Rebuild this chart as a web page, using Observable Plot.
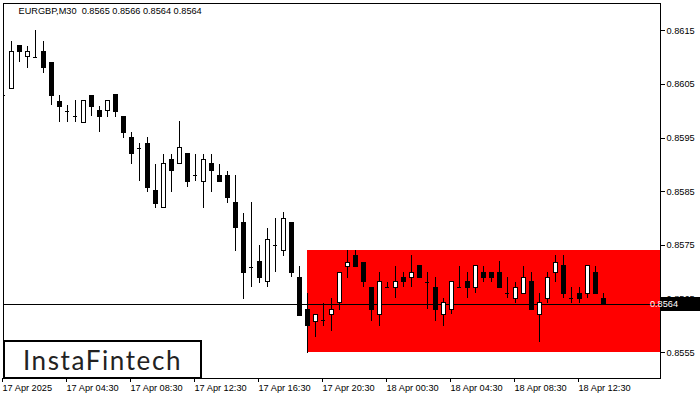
<!DOCTYPE html>
<html><head><meta charset="utf-8">
<script src="https://cdn.jsdelivr.net/npm/d3@7"></script>
<script src="https://cdn.jsdelivr.net/npm/@observablehq/plot@0.6"></script>
<style>
body{margin:0;background:#fff;}
#wrap{position:relative;width:700px;height:400px;overflow:hidden;background:#fff;}
#wrap svg rect, #wrap svg line, #wrap svg path{shape-rendering:crispEdges;}
#logo{position:absolute;left:3px;top:340px;width:195px;height:35px;border:2px solid #000;background:#fff;display:flex;align-items:center;justify-content:center;font-family:Lato,"Noto Sans",sans-serif;font-size:26px;color:#222;letter-spacing:1.6px;}
</style></head><body><div id="wrap"></div>
<script>
const symbolLabel = "EURGBP,M30";
const opens = [0.86030,0.86041,0.86121,0.86101,0.86101,0.86110,0.86091,0.86018,0.86000,0.85990,
0.85979,0.86028,0.86000,0.86000,0.86030,0.85990,0.85951,0.85931,0.85940,0.85851,
0.85819,0.85910,0.85901,0.85920,0.85880,0.85869,0.85901,0.85880,0.85880,0.85830,
0.85791,0.85709,0.85720,0.85681,0.85750,0.85739,0.85791,0.85690,0.85630,0.85608,
0.85610,0.85621,0.85642,0.85709,0.85731,0.85718,0.85671,0.85621,0.85671,0.85671,
0.85690,0.85690,0.85711,0.85681,0.85671,0.85621,0.85630,0.85671,0.85681,0.85671,
0.85699,0.85699,0.85699,0.85660,0.85651,0.85660,0.85681,0.85621,0.85651,0.85699,
0.85711,0.85651,0.85660,0.85660,0.85699,0.85650];
const highs = [0.86048,0.86130,0.86121,0.86121,0.86151,0.86130,0.86091,0.86030,0.86011,0.86020,
0.86020,0.86028,0.86009,0.86020,0.86030,0.85990,0.85961,0.85940,0.85951,0.85901,
0.85920,0.85920,0.85981,0.85920,0.85920,0.85920,0.85920,0.85901,0.85888,0.85880,
0.85810,0.85830,0.85750,0.85782,0.85800,0.85811,0.85791,0.85711,0.85660,0.85621,
0.85642,0.85651,0.85699,0.85740,0.85740,0.85718,0.85671,0.85699,0.85681,0.85711,
0.85699,0.85731,0.85711,0.85699,0.85690,0.85651,0.85681,0.85711,0.85699,0.85711,
0.85711,0.85699,0.85720,0.85690,0.85681,0.85711,0.85699,0.85660,0.85699,0.85731,
0.85731,0.85671,0.85671,0.85711,0.85711,0.85660];
const lows = [0.86011,0.86041,0.86091,0.86080,0.86101,0.86071,0.86011,0.85979,0.85979,0.85979,
0.85979,0.85990,0.85961,0.85989,0.85989,0.85949,0.85901,0.85869,0.85849,0.85819,
0.85819,0.85849,0.85901,0.85858,0.85869,0.85819,0.85849,0.85869,0.85828,0.85739,
0.85649,0.85671,0.85679,0.85671,0.85699,0.85729,0.85690,0.85619,0.85548,0.85578,
0.85599,0.85589,0.85628,0.85688,0.85709,0.85671,0.85608,0.85599,0.85671,0.85651,
0.85671,0.85671,0.85690,0.85630,0.85608,0.85599,0.85621,0.85671,0.85651,0.85660,
0.85681,0.85681,0.85671,0.85651,0.85642,0.85660,0.85630,0.85569,0.85642,0.85681,
0.85651,0.85642,0.85642,0.85651,0.85660,0.85640];
const closes = [0.86030,0.86110,0.86110,0.86110,0.86101,0.86080,0.86028,0.86009,0.86000,0.85990,
0.86020,0.86009,0.85989,0.86020,0.85998,0.85959,0.85920,0.85931,0.85858,0.85828,
0.85901,0.85888,0.85931,0.85869,0.85880,0.85910,0.85888,0.85869,0.85839,0.85782,
0.85699,0.85709,0.85690,0.85761,0.85750,0.85800,0.85699,0.85619,0.85599,0.85621,
0.85610,0.85630,0.85699,0.85718,0.85709,0.85681,0.85630,0.85681,0.85671,0.85681,
0.85681,0.85699,0.85690,0.85681,0.85630,0.85642,0.85681,0.85671,0.85671,0.85711,
0.85690,0.85690,0.85671,0.85660,0.85671,0.85690,0.85630,0.85642,0.85690,0.85718,
0.85660,0.85651,0.85651,0.85711,0.85660,0.85640];
const timeTickIndex = [0,8,16,24,32,40,48,56,64,72];
const timeTickLabels = ["17 Apr 2025","17 Apr 04:30","17 Apr 08:30","17 Apr 12:30","17 Apr 16:30",
"17 Apr 20:30","18 Apr 00:30","18 Apr 04:30","18 Apr 08:30","18 Apr 12:30"];
const priceTicks = [0.8555,0.8565,0.8575,0.8585,0.8595,0.8605,0.8615];
const zoneStartIndex = 38;
const zoneTop = 0.8574;
const zoneBottom = 0.8555;
const currentPrice = 0.8564;
const xDomain = [0, 82.125];
const yDomain = [0.85502, 0.86201];

const candles = opens.map((o,i)=>({i, o, h:highs[i], l:lows[i], c:closes[i]}));
const bulls = candles.filter(d => d.c - d.o > 0.00003);
const bears = candles.filter(d => d.o - d.c > 0.00003);
const dojis = candles.filter(d => Math.abs(d.o - d.c) <= 0.00003);
const last = candles[candles.length-1];
const f4 = v => v.toFixed(4);
const header = `${symbolLabel}\u00a0\u00a0${f4(last.o)} ${f4(last.h)} ${f4(last.l)} ${f4(last.c)}`;

const plot = Plot.plot({
  width: 700, height: 400,
  marginLeft: 3, marginRight: 40, marginTop: 3, marginBottom: 22,
  style: {fontFamily: "'Liberation Sans', Arial, sans-serif", fontSize: "9.2px", color: "#000", background: "#fff"},
  x: {domain: xDomain},
  y: {domain: yDomain},
  marks: [
    Plot.rect([{s: zoneStartIndex, e: xDomain[1], t: zoneTop, b: zoneBottom}], {x1: "s", x2: "e", y1: "b", y2: "t", fill: "#ff0000", clip: true}),
    Plot.ruleY([currentPrice], {stroke: "#000", strokeWidth: 1}),
    Plot.ruleX(candles, {x: "i", y1: "l", y2: "h", stroke: "#000", clip: true}),
    Plot.rect(bulls, {x1: d => d.i - 0.25, x2: d => d.i + 0.25, y1: "o", y2: "c", fill: "#fff", stroke: "#000", clip: true}),
    Plot.rect(bears, {x1: d => d.i - 0.25, x2: d => d.i + 0.25, y1: "o", y2: "c", fill: "#000", stroke: "#000", clip: true}),
    Plot.ruleY(dojis, {y: "o", x1: d => d.i - 0.3, x2: d => d.i + 0.3, stroke: "#000", clip: true}),
    Plot.frame({stroke: "#000"}),
    Plot.axisY(priceTicks, {anchor: "right", tickSize: 4, tickPadding: 2, tickFormat: f4, label: null}),
    Plot.axisX(timeTickIndex, {anchor: "bottom", tickSize: 4, tickPadding: 2, label: null,
      tickFormat: i => timeTickLabels[timeTickIndex.indexOf(i)], textAnchor: "start", dx: -1}),
    Plot.text([header], {frameAnchor: "top-left", text: d => d, dx: 15, dy: 4, lineAnchor: "top", textAnchor: "start", fill: "#000"})
  ]
});
document.getElementById("wrap").appendChild(plot);

// current price tag on the right axis
const ys = plot.scale("y").apply(currentPrice);
const svg = d3.select(plot);
svg.append("rect").attr("x", 661).attr("y", ys - 7).attr("width", 39).attr("height", 14).attr("fill", "#000");
svg.append("text").attr("x", 664).attr("y", ys).attr("dy", "0.35em").attr("fill", "#fff")
  .attr("font-size", "9.2px").text(f4(currentPrice));

const logo = document.createElement("div");
logo.id = "logo";
logo.textContent = "InstaFintech";
document.getElementById("wrap").appendChild(logo);
</script></body></html>
